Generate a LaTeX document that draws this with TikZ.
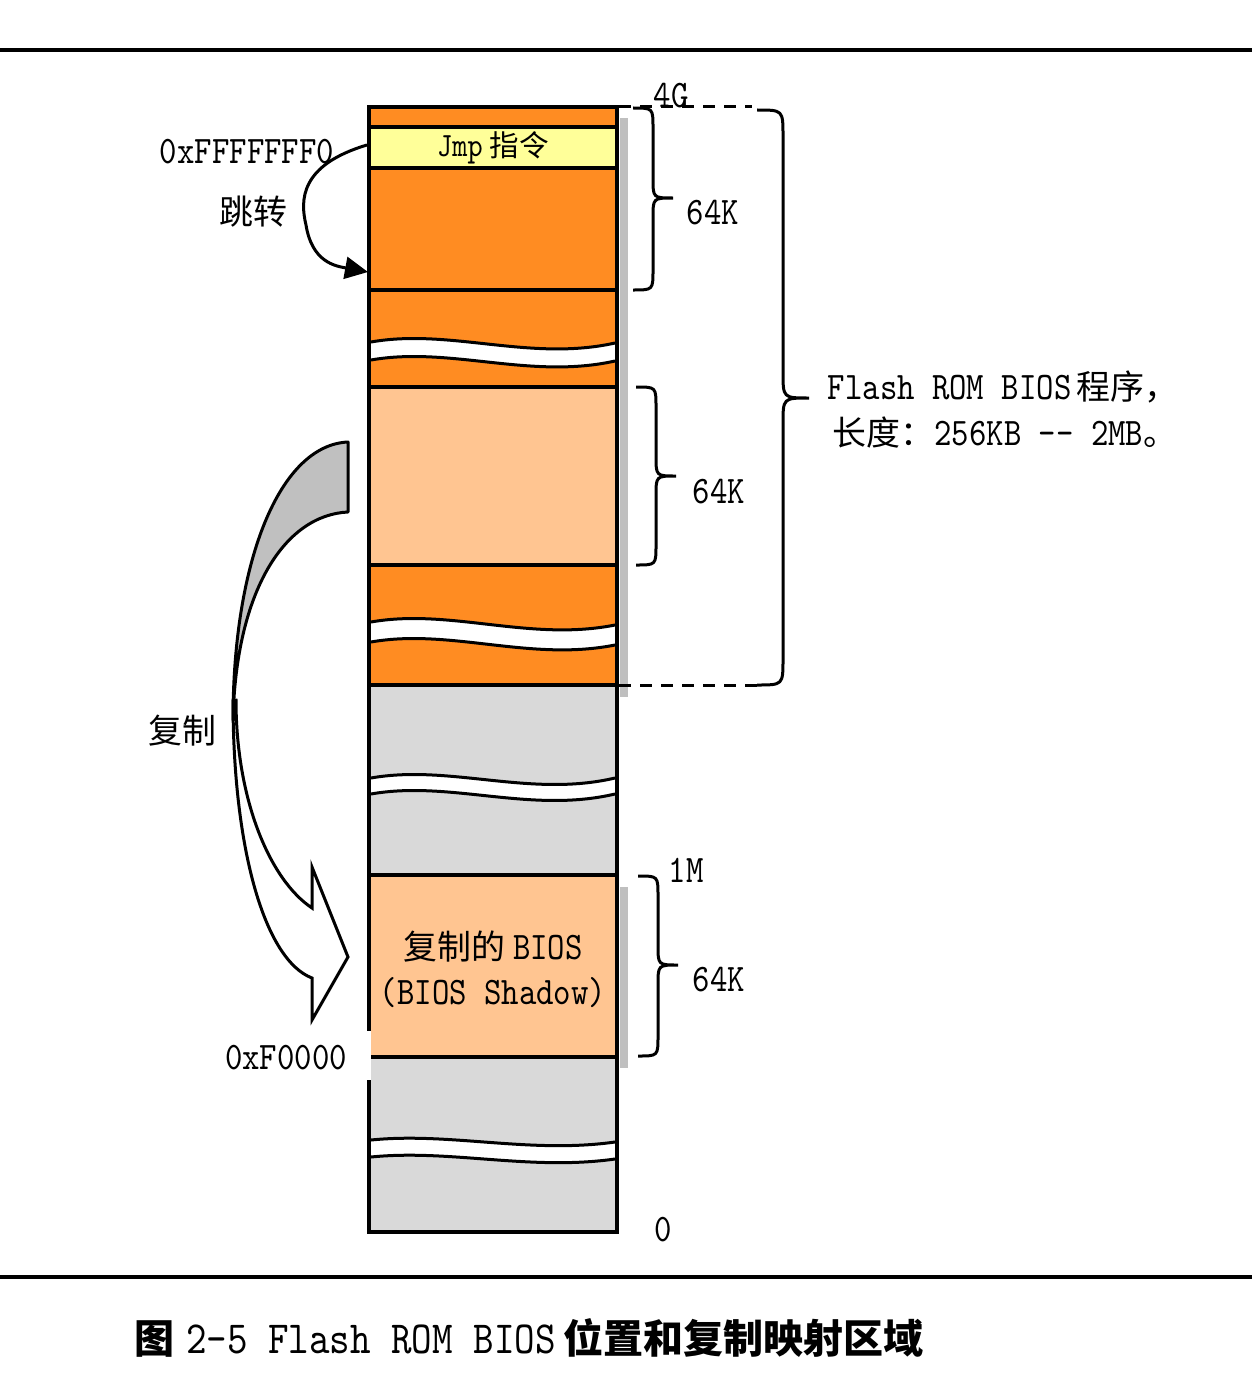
\documentclass[tikz,border=0pt]{standalone}
\usepackage{fontspec}
\newfontfamily\lat{lmmono10-regular}[Extension=.otf, FakeStretch=0.85, Ligatures=TeX]
\newfontfamily\cjk{Noto Sans CJK SC}[Scale=0.87]
\usetikzlibrary{arrows.meta}
\definecolor{orgC}{HTML}{FF8C22}
\definecolor{peach}{HTML}{FFC591}
\definecolor{yel}{HTML}{FFFF99}
\definecolor{lgray}{HTML}{D9D9D9}
\definecolor{agray}{HTML}{C0C0C0}
\newcommand\wavyband[5]{% y0, thickness, p1 offset, p2 offset, p3 offset
  \fill[white] (371,#1) .. controls (450,{#1+#3}) and (530,{#1+#4}) .. (615,{#1+#5})
     -- (615,{#1+#5+#2}) .. controls (530,{#1+#4+#2}) and (450,{#1+#3+#2}) .. (371,{#1+#2}) -- cycle;
  \draw[line width=3] (371,#1) .. controls (450,{#1+#3}) and (530,{#1+#4}) .. (615,{#1+#5});
  \draw[line width=3] (371,{#1+#2}) .. controls (450,{#1+#3+#2}) and (530,{#1+#4+#2}) .. (615,{#1+#5+#2});
}
\newcommand\curlybrace[5]{% x0, ytop, ybot, ytip, w
  \draw[line width=3] (#1,#2) .. controls ({#1+#5},#2) .. ({#1+#5},{#2+#5})
     -- ({#1+#5},{#4-#5}) .. controls ({#1+#5},#4) .. ({#1+2*#5},#4)
     .. controls ({#1+#5},#4) .. ({#1+#5},{#4+#5})
     -- ({#1+#5},{#3-#5}) .. controls ({#1+#5},#3) .. (#1,#3);
}
\begin{document}
\begin{tikzpicture}[x=1pt,y=-1pt,
  lbl/.style={inner sep=0pt, font=\lat\fontsize{39}{44}\selectfont},
  small/.style={inner sep=0pt, font=\lat\fontsize{34}{40}\selectfont},
  captxt/.style={inner sep=0pt, font=\lat\fontsize{46}{52}\selectfont},
  sect/.style={line width=4.5pt},
  arr/.style={line width=3pt, draw=black}]
\useasboundingbox (0,0) rectangle (1252,1394);
% rules
\draw[line width=4pt] (0,50) -- (1252,50);
\draw[line width=4pt] (0,1277) -- (1252,1277);
% column fills
\fill[orgC] (369,107) rectangle (617,127);
\fill[yel] (369,127) rectangle (617,168);
\fill[orgC] (369,168) rectangle (617,387);
\fill[peach] (369,387) rectangle (617,565);
\fill[orgC] (369,565) rectangle (617,685);
\fill[lgray] (369,685) rectangle (617,875);
\fill[peach] (369,875) rectangle (617,1057);
\fill[lgray] (369,1057) rectangle (617,1232);
% wavy breaks
\wavyband{342}{18}{-14}{20}{1}
\wavyband{622}{20}{-14}{20}{3}
\wavyband{778}{16}{-14}{20}{0}
\wavyband{1140}{17}{-8}{14}{2}
% separators and frame
\foreach \yy in {127,168,290,387,565,685,875,1057}
  \draw[sect] (369,\yy) -- (617,\yy);
\draw[sect] (369,107) rectangle (617,1232);
\fill[white] (363,1031) rectangle (370.5,1080);
% shadow strips
\fill[gray!50] (619.5,118) rectangle (628,697);
\fill[gray!50] (619.5,887) rectangle (628,1068);
% dashed lines
\draw[line width=3pt, dash pattern=on 12pt off 9pt] (619,107) -- (752,107);
\draw[line width=3pt, dash pattern=on 12pt off 9pt] (619,685) -- (757,685);
% braces
\curlybrace{633}{108}{290}{198}{20}
\curlybrace{636}{387}{565}{476}{20}
\curlybrace{638}{876}{1056}{965}{20}
\curlybrace{757}{110}{685}{398}{26}
% jump arrow
\coordinate (js) at (367,145);
\coordinate (je) at (368,272);
\draw[arr, -{Triangle[length=23pt,width=22pt]}] (js) .. controls (300,165) and (300,200) .. (306,225)
   .. controls (312,262) and (335,266) .. (je);
% copy arrow
\draw[arr, fill=white] (233,700) .. controls (233,850) and (265,960) .. (312,978)
   -- (312,1020) -- (348,957) -- (312,867) -- (312,908)
   .. controls (270,880) and (236,800) .. (236,700) -- cycle;
\draw[arr, fill=agray, line join=round] (348,442) .. controls (280,445) and (233,560) .. (233,720)
   .. controls (236,590) and (285,515) .. (348,512) -- cycle;
% labels
\node[lbl] (n4g) at (671,96) {4G};
\node[lbl] (k1) at (713,213) {64K};
\node[lbl] (k2) at (719,492) {64K};
\node[lbl] (k3) at (719,980) {64K};
\node[lbl] (m1) at (686,870) {1M};
\node[lbl] (z0) at (663,1230) {0};
\node[lbl] (a1) at (247,152) {0xFFFFFFF0};
\node[lbl] (jl) at (253,212) {{\cjk 跳转}};
\node[lbl] (cl) at (182,731) {{\cjk 复制}};
\node[lbl] (a2) at (286,1058) {0xF0000};
\node[small] (jmp) at (493,148) {Jmp\hspace{7pt}{\cjk 指令}};
\node[lbl] (s1) at (493,947) {{\cjk 复制的}\hspace{8pt}BIOS};
\node[lbl] (s2) at (493,993) {(BIOS Shadow)};
\node[lbl] (f1) at (1003,387) {Flash ROM BIOS\hspace{5pt}{\cjk 程序，}};
\node[lbl] (f2) at (1005,433) {{\cjk 长度：}256KB -{}- 2MB{\cjk 。}};
\node[captxt] (capt) at (529,1338) {{\cjk\bfseries 图}\hspace{12pt}2-5 Flash ROM BIOS\hspace{8pt}{\cjk\bfseries 位置和复制映射区域}};
\end{tikzpicture}
\end{document}
